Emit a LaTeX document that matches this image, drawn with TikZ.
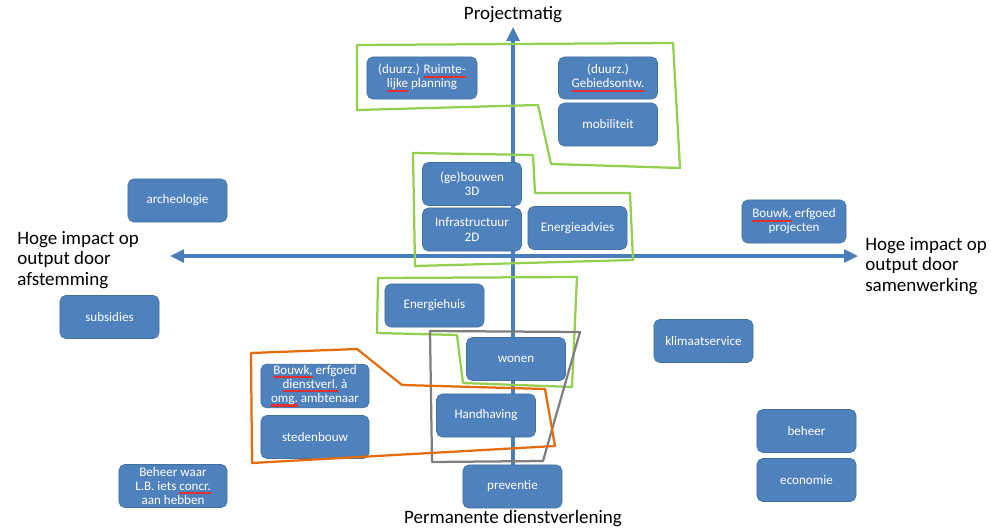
\documentclass[tikz,border=0pt]{standalone}
\usepackage{fontspec}
\setmainfont{Carlito}
\usepackage{xcolor}
\usetikzlibrary{arrows.meta}
\definecolor{cBox}{HTML}{4F81BD}
\definecolor{cBoxLine}{HTML}{41719C}
\definecolor{cAxis}{HTML}{4A7EBB}
\definecolor{cGreen}{HTML}{92D050}
\definecolor{cOrange}{HTML}{E46C0A}
\definecolor{cGray}{HTML}{7F7F7F}
\definecolor{cTypo}{HTML}{E03030}
% spell-check underline
\newsavebox\typobox
\newcommand\typo[1]{\leavevmode\sbox\typobox{#1}\rlap{\textcolor{cTypo}{\vrule width\wd\typobox height -1.2pt depth 2.7pt}}\usebox\typobox}
\tikzset{
  box/.style={rounded corners=4pt, draw=cBoxLine, line width=0.4pt, fill=cBox,
              text=white, align=center, font=\fontsize{9.3}{10}\selectfont, inner sep=1pt,
              minimum width=2.475cm, minimum height=1.075cm},
  wide/.style={minimum width=2.7cm},
  axis/.style={line width=2.2pt, draw=cAxis, >={Triangle[length=3.5mm,width=3.2mm]}},
  frame/.style={line width=1.6pt, draw=#1, line join=round},
  lbl/.style={font=\fontsize{13.5}{14.5}\selectfont, text=black, align=left, inner sep=0pt},
}

\begin{document}
\begin{tikzpicture}[x=0.025cm, y=-0.025cm]
  \useasboundingbox (0,0) rectangle (991,531);

  % axis labels
  \node[lbl] (pm) at (513,15) {Projectmatig};
  \node[lbl] (pd) at (513,519) {Permanente dienstverlening};
  \node[lbl, anchor=north west] (afst) at (17,231) {Hoge impact op\\output door\\afstemming};
  \node[lbl, anchor=north west] (samw) at (865,237) {Hoge impact op\\output door\\samenwerking};

  % axes
  \coordinate (ytop) at (513,27);
  \coordinate (xl) at (170,256);
  \coordinate (xr) at (858,256);
  \coordinate (ybot) at (513,470);
  \draw[axis, ->] (ybot) -- (ytop);
  \draw[axis, <->] (xl) -- (xr);

  % upper half
  \node[box, minimum width=2.75cm, minimum height=1.05cm] (ruimte) at (422,78) {(duurz.) \typo{Ruimte-}\\\typo{lijke} planning};
  \node[box, minimum height=1.05cm] (gebied) at (608,78) {(duurz.)\\\typo{Gebiedsontw.}};
  \node[box] (mobi) at (608,124.5) {mobiliteit};
  \node[box] (bouwen) at (472,184) {(ge)bouwen\\3D};
  \node[box] (infra) at (472,229.5) {Infrastructuur\\2D};
  \node[box] (eadvies) at (577.5,228) {Energieadvies};
  \node[box] (arch) at (177.5,200.5) {archeologie};
  \node[box, minimum width=2.6cm] (bproj) at (794,221.5) {\typo{Bouwk,} erfgoed\\projecten};

  % lower half
  \node[box] (ehuis) at (434.5,305.5) {Energiehuis};
  \node[box] (subs) at (109.5,317) {subsidies};
  \node[box] (wonen) at (516,359) {wonen};
  \node[box] (klimaat) at (703.5,341) {klimaatservice};
  \node[box, wide] (bdienst) at (315,386) {\typo{Bouwk,} erfgoed\\\typo{dienstverl.} à\\\typo{omg.} ambtenaar};
  \node[box] (handh) at (486,415.5) {Handhaving};
  \node[box, wide] (steden) at (315,437) {stedenbouw};
  \node[box] (beheer) at (806.5,431) {beheer};
  \node[box] (econ) at (806.5,480) {economie};
  \node[box, wide] (bwaar) at (173,486) {Beheer waar\\L.B. iets \typo{concr.}\\aan hebben};
  \node[box] (prev) at (512.5,486.5) {preventie};

  % hand drawn groupings
  \draw[frame=cGreen] (357,45) -- (673,43) -- (680,168) -- (551,164) -- (538,105) -- (357,110) -- cycle;
  \draw[frame=cGreen] (413,153) -- (533,155) -- (535,193) -- (630,193) -- (633,260) -- (415,266) -- cycle;
  \draw[frame=cGreen] (378,278) -- (577,277) -- (572,387) -- (463,383) -- (457,335) -- (377,333) -- cycle;
  \draw[frame=cGray] (430,331) -- (580,332) -- (547,447) -- (543,461) -- (432,462) -- cycle;
  \draw[frame=cOrange] (251,353) -- (357,349) -- (402,385) -- (545,389) -- (555,446) -- (252,463) -- cycle;
\end{tikzpicture}
\end{document}
